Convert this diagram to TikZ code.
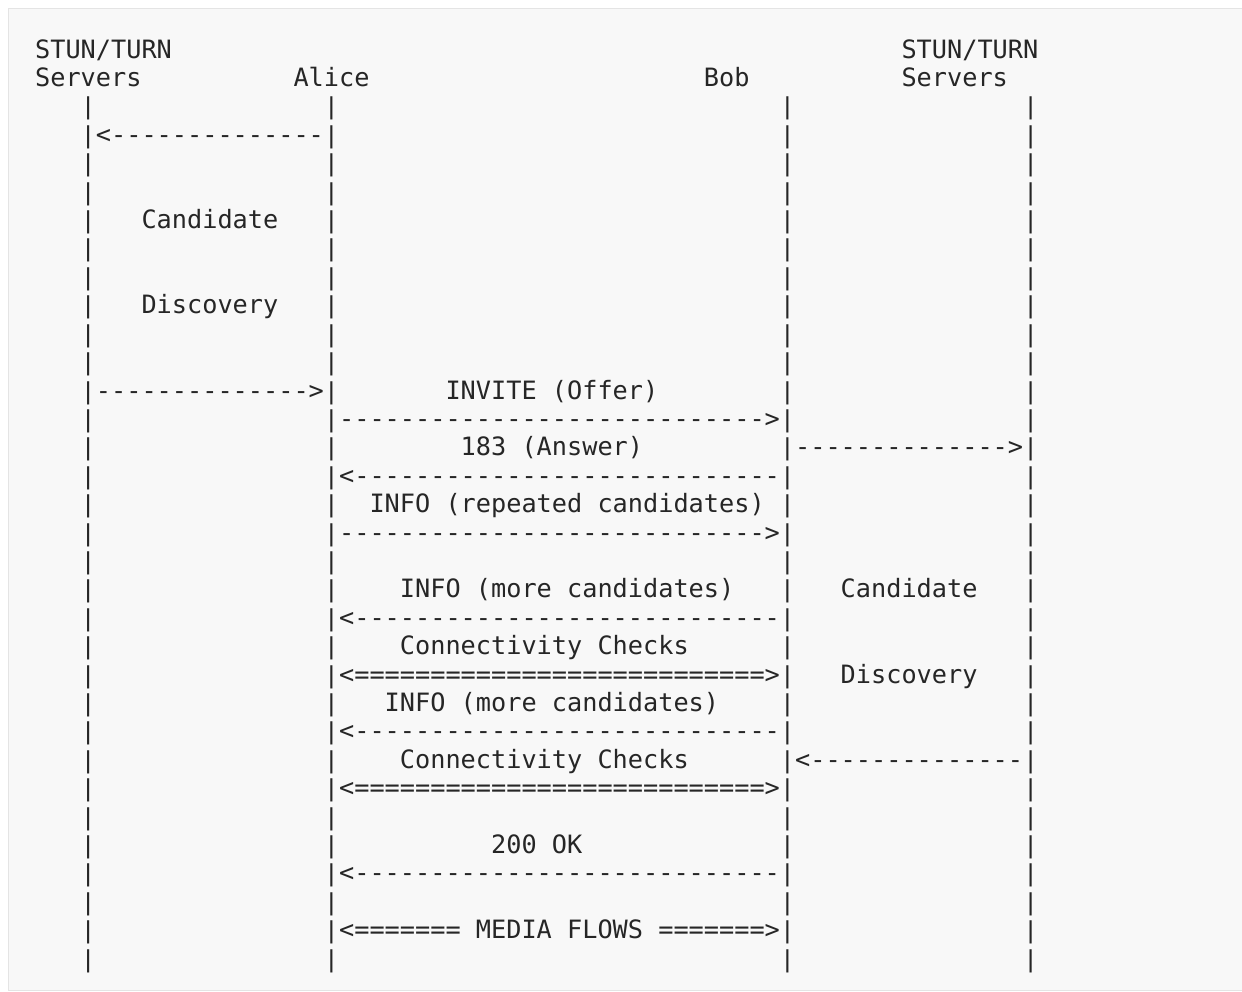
\documentclass[tikz,border=0pt]{standalone}
\usepackage{fontspec}
\setmonofont{DejaVu Sans Mono}
\definecolor{ink}{HTML}{262626}
\definecolor{panel}{HTML}{F8F8F8}
\definecolor{edge}{HTML}{E4E4E4}
\tikzset{
  txt/.style={anchor=base west, inner sep=0pt, outer sep=0pt, text=ink,
    font=\ttfamily\fontsize{25.25}{28.4}\selectfont},
}
\newcommand\seg[4]{\node[txt] (#1) at ({35.1+15.2*#2},{58.2+28.4*(#3-1)}) {#4};}
\begin{document}
\begin{tikzpicture}[x=1pt,y=-1pt]
\useasboundingbox (0,0) rectangle (1242,992);
\fill[white] (0,0) rectangle (1242,992);
\filldraw[fill=panel, draw=edge, line width=1pt] (8.5,8.5) rectangle (1260,990.5);
% participants
\seg{l1a}{0}{1}{STUN/TURN}
\seg{r1a}{57}{1}{STUN/TURN}
\seg{l1b}{0}{2}{Servers}
\seg{alice}{17}{2}{Alice}
\seg{bob}{44}{2}{Bob}
\seg{r1b}{57}{2}{Servers}
% lifelines
\foreach \r in {3,...,33}{
  \foreach \c/\n in {3/sa,19/al,49/bo,65/sb}{
    \node[txt] (\n-\r) at ({35.1+15.2*\c},{58.2+28.4*(\r-1)}) {\scalebox{1}[0.92]{|}};
  }
}
% left candidate discovery
\seg{m4}{4}{4}{<--------------}
\seg{t7}{7}{7}{Candidate}
\seg{t10}{7}{10}{Discovery}
\seg{m13}{4}{13}{-------------->}
% messages
\seg{t13}{27}{13}{INVITE (Offer)}
\seg{m14}{20}{14}{---------------------------->}
\seg{t15}{28}{15}{183 (Answer)}
\seg{m15}{50}{15}{-------------->}
\seg{m16}{20}{16}{<----------------------------}
\seg{t17}{22}{17}{INFO (repeated candidates)}
\seg{m18}{20}{18}{---------------------------->}
\seg{t20}{24}{20}{INFO (more candidates)}
\seg{t20b}{53}{20}{Candidate}
\seg{m21}{20}{21}{<----------------------------}
\seg{t22}{24}{22}{Connectivity Checks}
\seg{m23}{20}{23}{<===========================>}
\seg{t23b}{53}{23}{Discovery}
\seg{t24}{23}{24}{INFO (more candidates)}
\seg{m25}{20}{25}{<----------------------------}
\seg{t26}{24}{26}{Connectivity Checks}
\seg{m26}{50}{26}{<--------------}
\seg{m27}{20}{27}{<===========================>}
\seg{t29}{30}{29}{200 OK}
\seg{m30}{20}{30}{<----------------------------}
\seg{m32}{20}{32}{<======= MEDIA FLOWS =======>}
\end{tikzpicture}
\end{document}
